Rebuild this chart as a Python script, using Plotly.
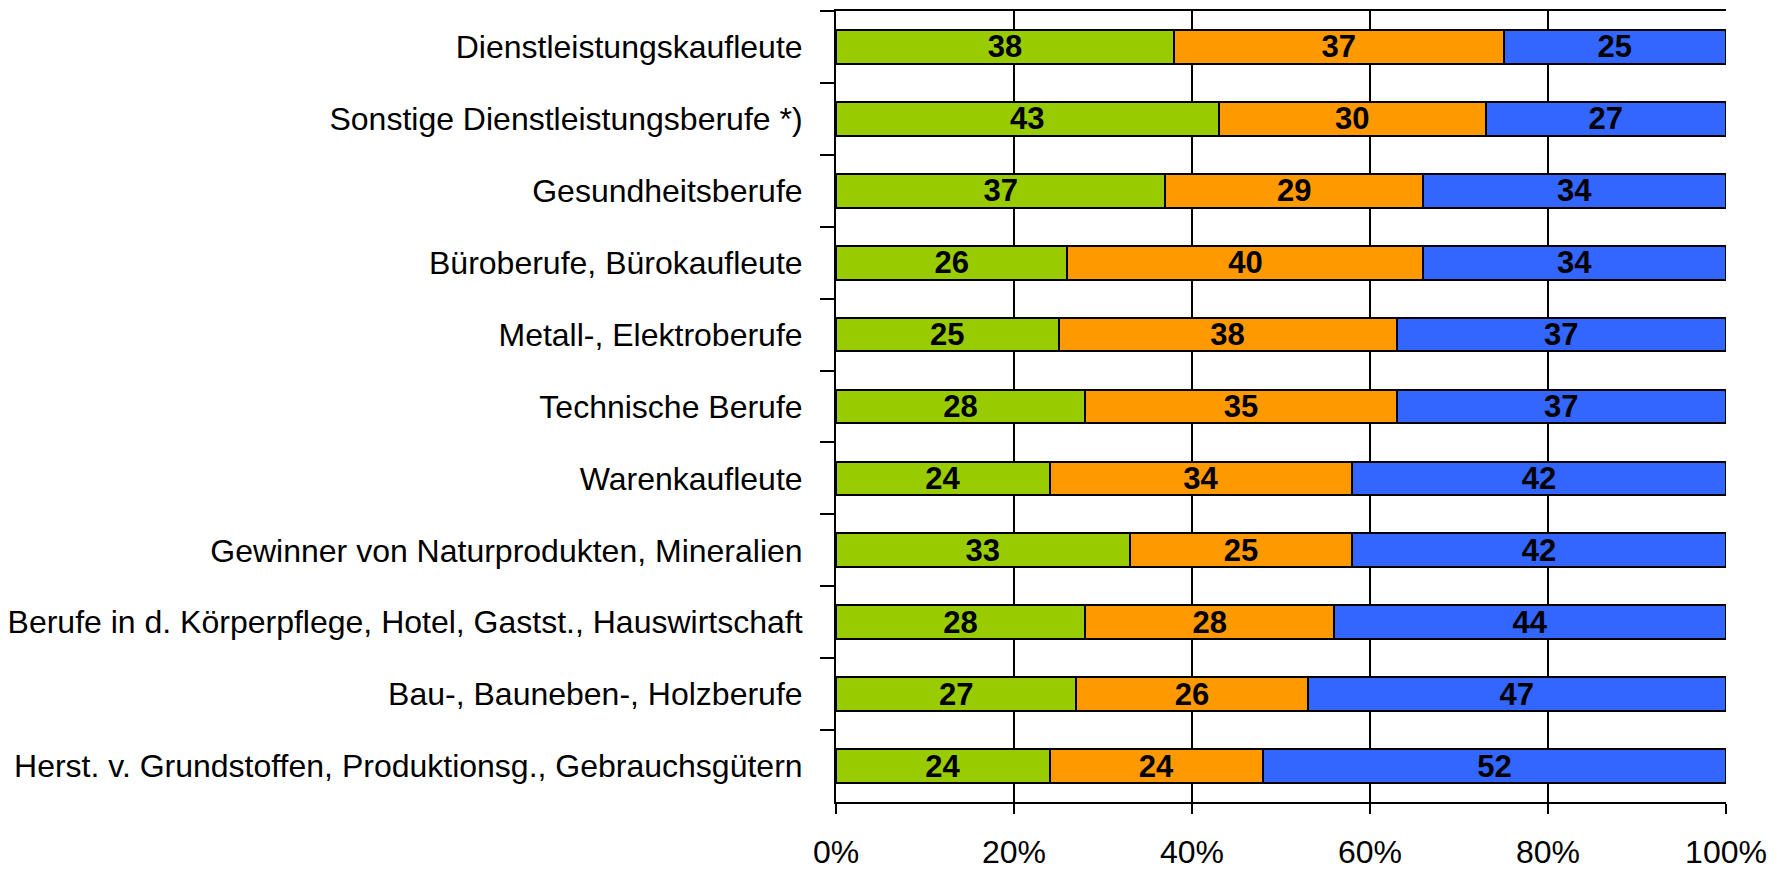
import plotly.graph_objects as go

categories = [
    "Dienstleistungskaufleute",
    "Sonstige Dienstleistungsberufe *)",
    "Gesundheitsberufe",
    "Büroberufe, Bürokaufleute",
    "Metall-, Elektroberufe",
    "Technische Berufe",
    "Warenkaufleute",
    "Gewinner von Naturprodukten, Mineralien",
    "Berufe in d. Körperpflege, Hotel, Gastst., Hauswirtschaft",
    "Bau-, Bauneben-, Holzberufe",
    "Herst. v. Grundstoffen, Produktionsg., Gebrauchsgütern",
]
green_vals = [38, 43, 37, 26, 25, 28, 24, 33, 28, 27, 24]
orange_vals = [37, 30, 29, 40, 38, 35, 34, 25, 28, 26, 24]
blue_vals = [25, 27, 34, 34, 37, 37, 42, 42, 44, 47, 52]
x_ticks = [0, 20, 40, 60, 80, 100]
x_tick_labels = ["0%", "20%", "40%", "60%", "80%", "100%"]

series = [
    (green_vals, "#99CC00"),
    (orange_vals, "#FF9900"),
    (blue_vals, "#3366FF"),
]

fig = go.Figure()
for vals, col in series:
    fig.add_trace(go.Bar(
        y=categories, x=vals, orientation="h",
        marker=dict(color=col, line=dict(color="black", width=2)),
        text=vals, textposition="inside", insidetextanchor="middle",
        textangle=0, constraintext="none",
        textfont=dict(family="Liberation Sans", size=31, color="black", weight="bold"),
        showlegend=False,
    ))

# page body has an 8px margin, so margins are shifted by that
fig.update_layout(
    barmode="stack", bargap=0.53,
    width=1784, height=872,
    margin=dict(l=828, r=66, t=3, b=78),
    plot_bgcolor="white", paper_bgcolor="white",
    font=dict(family="Liberation Sans", color="black"),
)
fig.update_xaxes(
    range=[0, 100], tickvals=x_ticks, ticktext=x_tick_labels,
    showgrid=True, gridcolor="black", gridwidth=2,
    showline=True, linecolor="black", linewidth=2, mirror=True,
    ticks="outside", ticklen=10, tickwidth=2, tickcolor="black",
    tickfont=dict(size=32), ticklabelstandoff=11,
    zeroline=False, automargin=False,
)
fig.update_yaxes(
    autorange="reversed", tickson="boundaries",
    showline=True, linecolor="black", linewidth=2,
    ticks="outside", ticklen=14, tickwidth=2, tickcolor="black",
    tickfont=dict(size=32), ticklabelstandoff=25,
    showgrid=False, automargin=False,
)

fig.write_html("out.html")
